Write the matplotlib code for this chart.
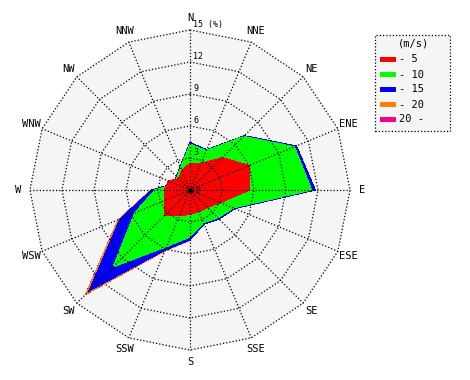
import numpy as np
import matplotlib
matplotlib.use("Agg")
import matplotlib.pyplot as plt
from matplotlib.patches import Rectangle

# 16 rumos, sentido horário a partir do N
RUMOS = ["N", "NNE", "NE", "ENE", "E", "ESE", "SE", "SSE",
         "S", "SSW", "SW", "WSW", "W", "WNW", "NW", "NNW"]

# frequência acumulada (%) por classe de velocidade
ATE_5 = [2.5, 2.7, 4.3, 6.0, 5.6, 3.1, 2.3, 2.2, 2.3, 2.6, 3.4, 2.6, 2.4, 2.2, 1.5, 2.0]
ATE_10 = [4.3, 4.0, 7.1, 10.6, 11.4, 4.4, 3.7, 3.3, 4.4, 5.75, 10.2, 5.6, 3.3, 1.5, 1.7, 2.3]
ATE_15 = [4.45, 4.1, 7.2, 10.8, 11.75, 4.55, 3.85, 3.45, 4.7, 6.1, 13.4, 7.1, 3.6, 1.6, 1.8, 2.4]
ATE_20 = [4.45, 4.1, 7.2, 10.8, 11.75, 4.55, 3.85, 3.45, 4.7, 6.2, 13.8, 7.3, 3.65, 1.6, 1.8, 2.4]
ACIMA_20 = [4.45, 4.1, 7.2, 10.8, 11.75, 4.55, 3.85, 3.45, 4.7, 6.2, 13.85, 7.3, 3.65, 1.6, 1.8, 2.4]

CLASSES = ["- 5", "- 10", "- 15", "- 20", "20 -"]
CORES = ["#ff0000", "#00ff00", "#0000ff", "#ff8000", "#ff0080"]
ANEIS = [3, 6, 9, 12, 15]

MONO = "DejaVu Sans Mono"
ESCALA = 10.67  # px por %
CX, CY = 190, 190
W, H = 470, 380

ang = np.deg2rad(np.arange(16) * 22.5)


def xy(r):
    r = np.asarray(r, dtype=float)
    x = r * np.sin(ang)
    y = r * np.cos(ang)
    return np.append(x, x[0]), np.append(y, y[0])


fig = plt.figure(figsize=(W / 100, H / 100), dpi=100)
ax = fig.add_axes([0, 0, 1, 1])
ax.set_xlim(-CX / ESCALA, (W - CX) / ESCALA)
ax.set_ylim(-CY / ESCALA, (H - CY) / ESCALA)
ax.axis("off")

# fundo do diagrama
bx, by = xy(np.full(16, 15.0))
ax.fill(bx, by, color="#f5f5f5", zorder=0)

series = [ACIMA_20, ATE_20, ATE_15, ATE_10, ATE_5]
for i, (vals, cor) in enumerate(zip(series, CORES[::-1])):
    px, py = xy(vals)
    ax.fill(px, py, color=cor, lw=0, zorder=1 + i, antialiased=False)

# grade pontilhada
pont = dict(color="black", lw=0.9, ls=(0, (1, 1.6)), zorder=10)
for r in ANEIS:
    gx, gy = xy(np.full(16, float(r)))
    ax.plot(gx, gy, **pont)
for a in ang:
    ax.plot([0, 15 * np.sin(a)], [0, 15 * np.cos(a)], **pont)
ax.plot(0, 0, "o", color="black", ms=2.5, zorder=11)

# rótulos dos rumos
for nome, a in zip(RUMOS, ang):
    ax.text(16.1 * np.sin(a), 16.1 * np.cos(a), nome, family=MONO,
            fontsize=7.5, ha="center", va="center", zorder=12)

# rótulos dos anéis
for r in ANEIS:
    txt = f"{r} (%)" if r == 15 else str(r)
    ax.text(0.3, r + 0.1, txt, family=MONO, fontsize=6, ha="left",
            va="bottom", zorder=12)
ax.text(0.5, -0.05, "0", family=MONO, fontsize=5.5, ha="left", va="center",
        zorder=12)

# legenda manual
def fx(p):
    return p / W


def fy(p):
    return 1 - p / H


fig.patches.append(Rectangle((fx(375), fy(131)), fx(450) - fx(375),
                             fy(35) - fy(131), transform=fig.transFigure,
                             facecolor="#f5f5f5", edgecolor="black", lw=0.9,
                             ls=(0, (1, 1.6))))
fig.text(fx(413), fy(44), "(m/s)", family=MONO, fontsize=7.5,
         ha="center", va="center")
for i, (rot, cor) in enumerate(zip(CLASSES, CORES)):
    yy = 59.5 + i * 15
    fig.patches.append(Rectangle((fx(380), fy(yy + 2.5)), fx(396) - fx(380),
                                 fy(yy - 2.5) - fy(yy + 2.5),
                                 transform=fig.transFigure, facecolor=cor,
                                 lw=0))
    fig.text(fx(399), fy(yy), rot, family=MONO, fontsize=7.5,
             ha="left", va="center")

fig.savefig("out.png", dpi=100, facecolor="white")
